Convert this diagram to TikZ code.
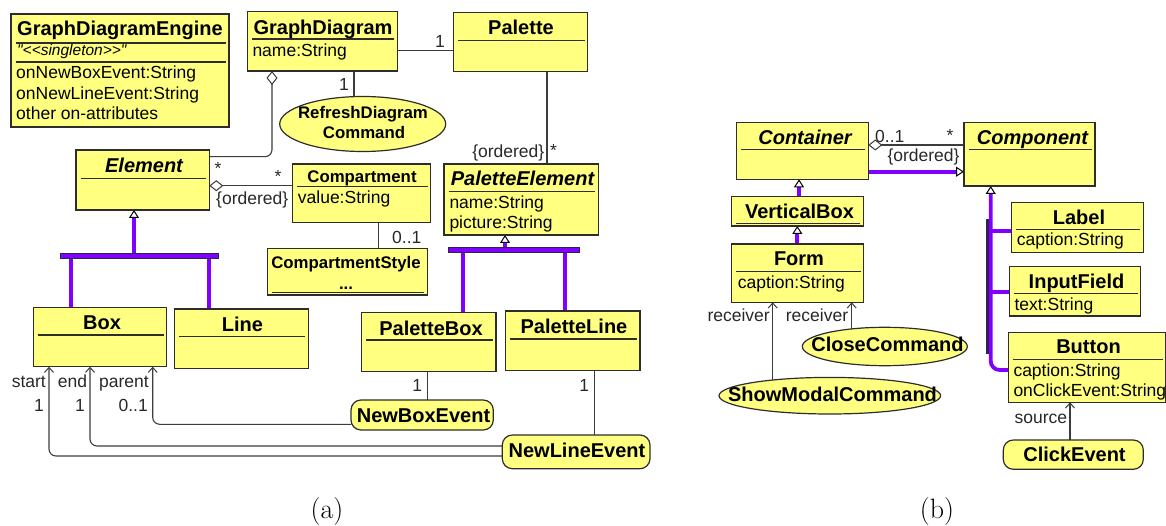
\documentclass[tikz,border=0pt]{standalone}
\usepackage{fontspec}
\usetikzlibrary{arrows.meta,shapes.geometric}
\newfontfamily\umlfont{Liberation Sans}
\definecolor{boxfill}{RGB}{255,255,128}
\definecolor{boxline}{RGB}{45,45,45}
\definecolor{wirecol}{RGB}{60,60,60}
\definecolor{labelgray}{RGB}{40,40,40}
\definecolor{gencol}{RGB}{128,0,255}
\definecolor{forkdark}{RGB}{45,35,75}
\pgfdeclarelayer{background}
\pgfsetlayers{background,main}

\tikzset{
  classbox/.style={rectangle, draw=boxline, fill=boxfill, line width=1.2pt,
    anchor=north west, inner sep=0pt, outer sep=0pt},
  eventbox/.style={classbox, rounded corners=10pt},
  actbox/.style={ellipse, draw=boxline, fill=boxfill, line width=1.2pt,
    inner sep=0pt, outer sep=0pt},
  sepline/.style={draw=boxline, line width=1.2pt},
  forkbar/.style={rectangle, draw=forkdark, fill=gencol, line width=1pt,
    anchor=north west, inner sep=0pt, outer sep=0pt},
  wire/.style={draw=wirecol, line width=1.1pt},
  genline/.style={draw=gencol, line width=3.8pt},
  gentip/.style={-{Triangle[open, length=8pt, width=10pt, line width=1pt, color=black, fill=white]}},
  navtip/.style={-{Straight Barb[length=5pt, width=9pt, line width=1pt]}},
  aggtip/.style={{Diamond[open, length=14pt, width=11pt, line width=1pt, fill=white]}-},
  ttl/.style={font=\umlfont\bfseries\fontsize{20}{22}\selectfont, anchor=base, inner sep=0pt},
  ittl/.style={ttl, font=\umlfont\bfseries\itshape\fontsize{20}{22}\selectfont},
  sttl/.style={ttl, font=\umlfont\bfseries\fontsize{16.8}{19}\selectfont},
  attr/.style={font=\umlfont\fontsize{17.5}{20}\selectfont, anchor=base west, inner sep=0pt},
  stereo/.style={font=\umlfont\itshape\fontsize{15.5}{18}\selectfont, anchor=base west, inner sep=0pt},
  role/.style={font=\umlfont\fontsize{17.5}{20}\selectfont, text=labelgray, anchor=base, inner sep=0pt},
  caption/.style={font=\fontsize{28}{30}\selectfont, anchor=base, inner sep=0pt}
}

% class box: name, left, top, right, bottom
\newcommand\umlclass[5]{\node[classbox, minimum width={(#4)-(#2)}, minimum height={(#5)-(#3)}] (#1) at (#2,#3) {};}
\newcommand\umlevent[5]{\node[eventbox, minimum width={(#4)-(#2)}, minimum height={(#5)-(#3)}] (#1) at (#2,#3) {};}
% compartment separator: left, right, y
\newcommand\umlsep[3]{\draw[sepline] ({#1+4.5},#3) -- ({#2-3},#3);}

\begin{document}
\begin{tikzpicture}[x=1pt,y=-1pt]
\useasboundingbox (0,0) rectangle (1166,526);

% ---------------- (a) graph diagram metamodel ----------------
\umlclass{gde}{11}{14}{229}{127}
\umlsep{11}{229}{43}
\umlsep{11}{229}{62}
\node[ttl] (gdeT) at (120,36) {GraphDiagramEngine};
\node[stereo] (gdeS) at (17,56) {"<<singleton>>"};
\node[attr] (gdeA1) at (16,79) {onNewBoxEvent:String};
\node[attr] (gdeA2) at (16,99.5) {onNewLineEvent:String};
\node[attr] (gdeA3) at (16,120) {other on-attributes};

\umlclass{gd}{247.3}{11.7}{397.3}{71}
\umlsep{247.3}{397.3}{39}
\node[ttl] (gdT) at (323,35) {GraphDiagram};
\node[attr] (gdA) at (252.3,56.7) {name:String};

\umlclass{pal}{453.3}{12.7}{587.7}{71.7}
\umlsep{453.3}{587.7}{40.7}
\node[ttl] (palT) at (521,35) {Palette};

\node[actbox, minimum width=166pt, minimum height=55pt] (rdc) at (362.7,124) {};
\node[sttl] (rdcT1) at (363,119) {RefreshDiagram};
\node[sttl] (rdcT2) at (364,139) {Command};

\umlclass{el}{76}{150}{209.3}{210}
\umlsep{76}{209.3}{178.3}
\node[ittl] (elT) at (144,172.7) {Element};

\umlclass{cmp}{292.3}{164}{430.7}{222.7}
\umlsep{292.3}{430.7}{186.7}
\node[sttl] (cmpT) at (362,182.7) {Compartment};
\node[attr] (cmpA) at (297.7,203.3) {value:String};

\umlclass{cst}{267.3}{248.3}{427.3}{295}
\umlsep{267.3}{427.3}{292.3}
\node[sttl] (cstT) at (346,268.3) {CompartmentStyle};
\node[sttl] (cstD) at (346,289.3) {...};

\umlclass{pe}{444}{164}{598.3}{235}
\umlsep{444}{598.3}{191.7}
\node[ittl] (peT) at (522.5,185.7) {PaletteElement};
\node[attr] (peA1) at (449.3,208.3) {name:String};
\node[attr] (peA2) at (449.3,228.3) {picture:String};

\umlclass{box}{33.3}{307.3}{166.7}{366.7}
\umlsep{33.3}{166.7}{335}
\node[ttl] (boxT) at (102,330) {Box};

\umlclass{line}{174.7}{309}{308.3}{368.3}
\umlsep{174.7}{308.3}{336.7}
\node[ttl] (lineT) at (242.5,331.7) {Line};

\umlclass{pbox}{361.7}{312.3}{496}{371.7}
\umlsep{361.7}{496}{340}
\node[ttl] (pboxT) at (431,335) {PaletteBox};

\umlclass{pline}{505.7}{311}{640}{370.7}
\umlsep{505.7}{640}{339}
\node[ttl] (plineT) at (574,333.3) {PaletteLine};

\umlevent{nbe}{351}{400}{493.3}{430}
\node[ttl] (nbeT) at (423.5,422.7) {NewBoxEvent};
\umlevent{nle}{502.3}{435}{650}{468.7}
\node[ttl] (nleT) at (577,457.3) {NewLineEvent};

\node[forkbar, minimum width=158.3pt, minimum height=4.7pt] (fork1) at (60,254) {};
\node[forkbar, minimum width=130.3pt, minimum height=5pt] (fork2) at (448.7,247.3) {};

% ---------------- (b) form metamodel ----------------
\umlclass{cont}{736.7}{122.3}{868.3}{179.3}
\umlsep{736.7}{868.3}{149.3}
\node[ittl] (contT) at (805,144.3) {Container};

\umlclass{vbox}{731.7}{196.7}{863.3}{226}
\umlsep{731.7}{863.3}{223.5}
\node[ttl] (vboxT) at (799.5,218.3) {VerticalBox};

\umlclass{form}{731.7}{244}{863.7}{302.3}
\umlsep{731.7}{863.7}{271.7}
\node[ttl] (formT) at (799,266) {Form};
\node[attr] (formA) at (737.7,288.3) {caption:String};

\umlclass{comp}{964}{122.3}{1095}{186}
\umlsep{964}{1095}{149.3}
\node[ittl] (compT) at (1032.5,144.3) {Component};

\umlclass{lbl}{1011.7}{202.3}{1143.3}{252.3}
\umlsep{1011.7}{1143.3}{229.3}
\node[ttl] (lblT) at (1079,224.3) {Label};
\node[attr] (lblA) at (1016.7,245.7) {caption:String};

\umlclass{inf}{1009.3}{266.7}{1140.7}{316}
\umlsep{1009.3}{1140.7}{293.3}
\node[ttl] (infT) at (1076.5,289) {InputField};
\node[attr] (infA) at (1014.3,310) {text:String};

\umlclass{btn}{1008.3}{332.3}{1165.5}{402.3}
\umlsep{1008.3}{1165.5}{359.3}
\node[ttl] (btnT) at (1088.5,353.3) {Button};
\node[attr] (btnA1) at (1013.3,376.7) {caption:String};
\node[attr] (btnA2) at (1013.3,396) {onClickEvent:String};

\node[actbox, minimum width=165pt, minimum height=38.4pt] (cc) at (884.8,346.5) {};
\node[ttl] (ccT) at (887.5,351.7) {CloseCommand};
\node[actbox, minimum width=221.6pt, minimum height=36.6pt] (smc) at (829.8,395.7) {};
\node[ttl] (smcT) at (832.5,401) {ShowModalCommand};

\umlevent{ce}{1003.3}{440}{1143.3}{469.3}
\node[ttl] (ceT) at (1074.5,461.7) {ClickEvent};

% ---------------- connectors ----------------
\begin{pgfonlayer}{background}
  % (a)
  \draw[wire] (gd.east |- 0,50.3) -- (pal.west |- 0,50.3);
  \draw[wire] (gd.south -| 354,0) -- (rdc.center -| 354,0);
  \draw[wire, aggtip, rounded corners=7pt] (gd.south -| 272,0) -- (272,156.7) -- (el.east |- 0,156.7);
  \draw[wire, aggtip] (el.east |- 0,185.7) -- (cmp.west |- 0,185.7);
  \draw[wire] (cmp.south -| 378.3,0) -- (cst.north -| 378.3,0);
  \draw[wire] (pal.south -| 547,0) -- (pe.north -| 547,0);
  \draw[genline, gentip] (fork1.north -| 134,0) -- (el.south -| 134,0);
  \draw[genline] (fork1.south -| 70.7,0) -- (box.north -| 70.7,0);
  \draw[genline] (fork1.south -| 209.3,0) -- (line.north -| 209.3,0);
  \draw[genline, gentip] (fork2.north -| 505,0) -- (pe.south -| 505,0);
  \draw[genline] (fork2.south -| 463.3,0) -- (pbox.north -| 463.3,0);
  \draw[genline] (fork2.south -| 565.3,0) -- (pline.north -| 565.3,0);
  \draw[wire] (pbox.south -| 427.7,0) -- (nbe.north -| 427.7,0);
  \draw[wire] (pline.south -| 594.7,0) -- (nle.north -| 594.7,0);
  \draw[wire, navtip, rounded corners=7pt] (nbe.west |- 0,424.3) -- (152.7,424.3) -- (box.south -| 152.7,0);
  \draw[wire, navtip, rounded corners=7pt] (nle.west |- 0,446) -- (90,446) -- (box.south -| 90,0);
  \draw[wire, navtip, rounded corners=7pt] (nle.west |- 0,456) -- (49,456) -- (box.south -| 49,0);
  % (b)
  \draw[wire, aggtip] (cont.east |- 0,145) -- (comp.west |- 0,145);
  \draw[genline, gentip] (cont.east |- 0,171.7) -- (comp.west |- 0,171.7);
  \draw[genline, gentip] (vbox.north -| 799,0) -- (cont.south -| 799,0);
  \draw[genline, gentip] (form.north -| 797.3,0) -- (vbox.south -| 797.3,0);
  \draw[wire, navtip] (smc.center -| 772.7,0) -- (form.south -| 772.7,0);
  \draw[wire, navtip] (cc.center -| 851.7,0) -- (form.south -| 851.7,0);
  \node[forkbar, fill=forkdark, minimum width=3pt, minimum height=133pt] (fork3) at (986,220) {};
  \draw[genline, gentip, rounded corners=9pt] (btn.west |- 0,370) -- (990.7,370) -- (comp.south -| 990.7,0);
  \draw[genline] (fork3.east |- 0,230.7) -- (lbl.west |- 0,230.7);
  \draw[genline] (fork3.east |- 0,291.7) -- (inf.west |- 0,291.7);
  \draw[wire, navtip] (ce.north -| 1070,0) -- (btn.south -| 1070,0);
\end{pgfonlayer}

% ---------------- role names and multiplicities ----------------
\node[role] (m1) at (440,47.3) {1};
\node[role] (m2) at (344,91) {1};
\node[role] (m3) at (218,174.5) {*};
\node[role] (m4) at (278,183) {*};
\node[role, anchor=base west] (o1) at (216,204.3) {\{ordered\}};
\node[role, anchor=base west] (m5) at (392,243.3) {0..1};
\node[role, anchor=base east] (o2) at (544.5,157.3) {\{ordered\}};
\node[role, anchor=base west] (m6) at (550,156.5) {*};
\node[role] (m7) at (417.3,391.7) {1};
\node[role] (m8) at (584.3,391.7) {1};
\node[role, anchor=base east] (r1) at (46,387.3) {start};
\node[role, anchor=base east] (r2) at (87.3,387.3) {end};
\node[role, anchor=base east] (r3) at (149,387.3) {parent};
\node[role] (m9) at (39,411) {1};
\node[role] (m10) at (80,411) {1};
\node[role, anchor=base east] (m11) at (148,411) {0..1};

\node[role, anchor=base west] (m12) at (875,142.7) {0..1};
\node[role] (m13) at (950,141.8) {*};
\node[role, anchor=base west] (o3) at (887.3,161.7) {\{ordered\}};
\node[role, anchor=base east] (r4) at (770,321.7) {receiver};
\node[role, anchor=base east] (r5) at (848.3,321.7) {receiver};
\node[role, anchor=base east] (r6) at (1067.3,423.3) {source};

% ---------------- captions ----------------
\node[caption] (capa) at (327,518) {(a)};
\node[caption] (capb) at (937,518) {(b)};
\end{tikzpicture}
\end{document}
